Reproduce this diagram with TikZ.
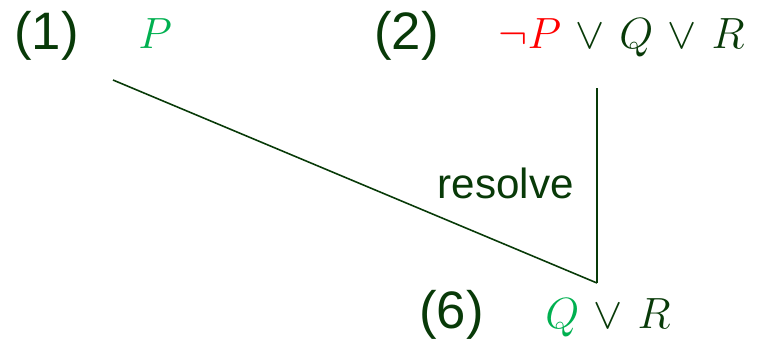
\documentclass[tikz,border=0pt]{standalone}
\usepackage{fontspec}
\setsansfont{Liberation Sans}
\definecolor{darkgreen}{RGB}{8,58,8}
\definecolor{litgreen}{RGB}{0,176,80}
\definecolor{negred}{RGB}{255,0,0}
\usetikzlibrary{positioning}

\newcommand{\orsym}{\mkern2mu\vee\mkern2mu}

\begin{document}
\begin{tikzpicture}[x=0.02cm,y=-0.02cm]
  \tikzstyle{numlabel}=[inner sep=0pt,anchor=base west,text=darkgreen,font=\sffamily\fontsize{30}{36}\selectfont]
  \tikzstyle{clause}=[inner sep=0pt,anchor=base west,text=darkgreen,font=\fontsize{29}{35}\selectfont]
  \tikzstyle{edge}=[draw=darkgreen,line width=0.9pt]

  \useasboundingbox (0,0) rectangle (767,346);

  \node[numlabel] (n1) at (14,49) {(1)};
  \node[clause] (c1) at (138,48) {\color{litgreen}$P$};
  \node[numlabel] (n2) at (374,49) {(2)};
  \node[clause] (c2) at (498,48) {$\color{negred}\neg P\color{darkgreen}\orsym Q\orsym R$};
  \node[numlabel] (n6) at (419,328) {(6)};
  \node[clause] (c6) at (545,328) {$\color{litgreen}Q\color{darkgreen}\orsym R$};
  \node[numlabel,anchor=base east,font=\sffamily\fontsize{24}{29}\selectfont] (res) at (574,198) {resolve};

  \coordinate (left) at (113,80);
  \coordinate (right) at (597,88);
  \coordinate (join) at (597,283);

  \draw[edge] (left) -- (join);
  \draw[edge] (right) -- (join);
\end{tikzpicture}
\end{document}
